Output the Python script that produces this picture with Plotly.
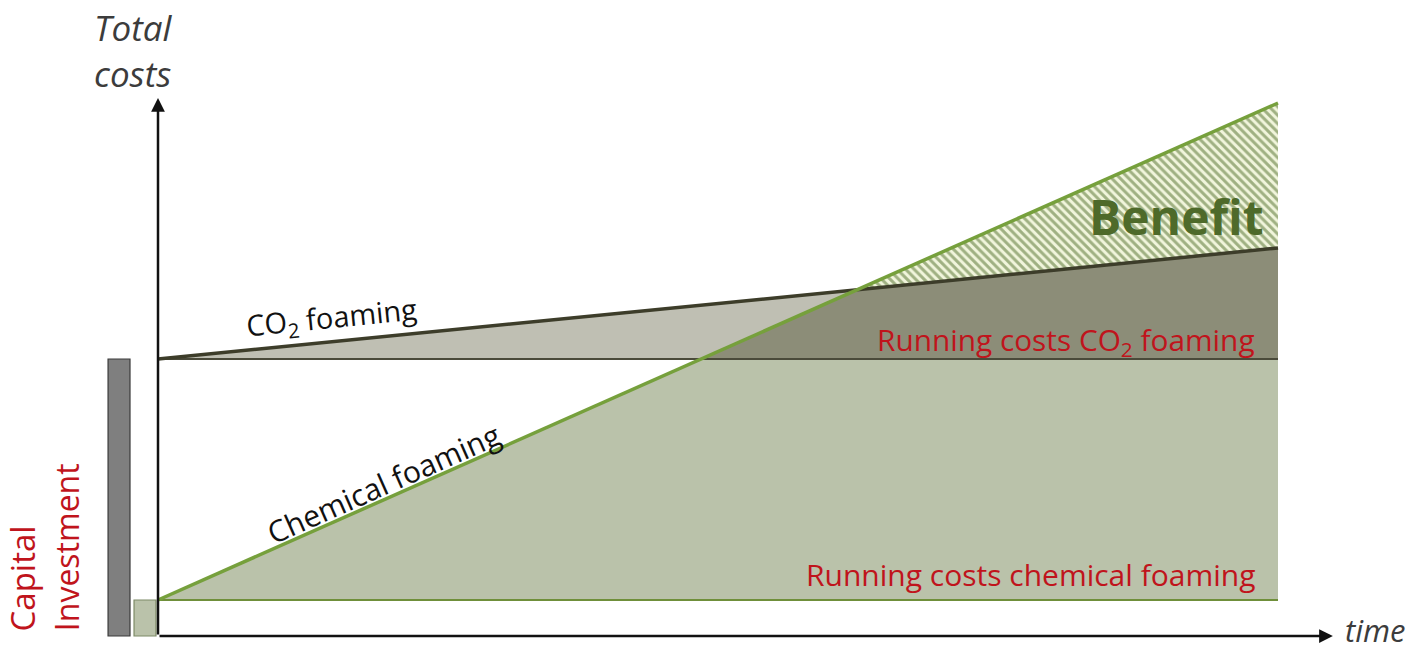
import plotly.graph_objects as go

# Conceptual cost comparison: chemical vs CO2 foaming over time
time_span = [0, 10]                  # start / end of the observed period
chem_costs = [3.6, 53.3]             # chemical foaming total costs at start / end
co2_costs = [27.7, 38.8]             # CO2 foaming total costs at start / end
capital = {"CO2": 27.7, "Chemical": 3.6}   # capital investment per process
capital_bar_t = [-0.348, -0.116]     # bar positions left of the cost axis
axis_tips = {"time": 10.49, "cost": 53.8}

# colours
C_CHEM_FILL = "#bac2aa"
C_CO2_FILL = "#bfbfb3"
C_OVERLAP = "#8c8d78"
C_CHEM_LINE = "#76a03c"
C_CO2_LINE = "#3d3d2a"
C_RED = "#c0141c"
C_TEXT = "#3c3c3c"
C_BENEFIT = "#4e6a2a"
FONT = "Open Sans"

t0, t1 = time_span
c_start, c_end = chem_costs
o_start, o_end = co2_costs


def chem_at(t):
    return c_start + (c_end - c_start) * (t - t0) / (t1 - t0)


def co2_at(t):
    return o_start + (o_end - o_start) * (t - t0) / (t1 - t0)


# where the chemical line meets the CO2 capital level and the CO2 line
t_a = t0 + (o_start - c_start) * (t1 - t0) / (c_end - c_start)
slope_diff = ((c_end - c_start) - (o_end - o_start)) / (t1 - t0)
t_c = t0 + (o_start - c_start) / slope_diff
y_c = chem_at(t_c)

fig = go.Figure()

# running costs of chemical foaming (area under its line)
fig.add_trace(go.Scatter(
    x=[t0, t1, t1, t0], y=[c_start, c_end, c_start, c_start],
    fill="toself", fillcolor=C_CHEM_FILL, mode="none", hoverinfo="skip"))

# running costs of CO2 foaming
fig.add_trace(go.Scatter(
    x=[t0, t1, t1, t0], y=[o_start, o_end, o_start, o_start],
    fill="toself", fillcolor=C_CO2_FILL, mode="none", hoverinfo="skip"))

# overlap of both running-cost areas
fig.add_trace(go.Scatter(
    x=[t_a, t_c, t1, t1, t_a], y=[o_start, y_c, o_end, o_start, o_start],
    fill="toself", fillcolor=C_OVERLAP, mode="none", hoverinfo="skip"))

# benefit wedge (hatched)
fig.add_trace(go.Scatter(
    x=[t_c, t1, t1, t_c], y=[y_c, c_end, o_end, y_c],
    fill="toself", mode="none", hoverinfo="skip",
    fillcolor="#f1f5dc",
    fillpattern=dict(shape="\\", fgcolor="#4e6c28", bgcolor="#f1f5dc",
                     size=6, solidity=0.5)))

# capital levels
fig.add_trace(go.Scatter(x=[t0, t1], y=[o_start, o_start], mode="lines",
                         line=dict(color="#4a4a3a", width=2), hoverinfo="skip"))
fig.add_trace(go.Scatter(x=[t0, t1], y=[c_start, c_start], mode="lines",
                         line=dict(color="#6f8f3a", width=2), hoverinfo="skip"))

# total cost lines
fig.add_trace(go.Scatter(x=[t0, t1], y=[o_start, o_end], mode="lines",
                         line=dict(color=C_CO2_LINE, width=3.5), hoverinfo="skip"))
fig.add_trace(go.Scatter(x=[t0, t1], y=[c_start, c_end], mode="lines",
                         line=dict(color=C_CHEM_LINE, width=3.5), hoverinfo="skip"))

# capital investment bars
fig.add_trace(go.Bar(
    x=capital_bar_t, y=[capital["CO2"], capital["Chemical"]], width=0.196,
    marker=dict(color=["#7f7f7f", C_CHEM_FILL],
                line=dict(color=["#3a3a3a", "#7d8a66"], width=1.2)),
    hoverinfo="skip"))

ann = []
# axes arrows
ann.append(dict(x=0, y=axis_tips["cost"], ax=0, ay=0, xref="x", yref="y",
                axref="x", ayref="y", showarrow=True, arrowhead=2, arrowsize=1.1,
                arrowwidth=2.5, arrowcolor="#111111", standoff=0, text=""))
ann.append(dict(x=axis_tips["time"], y=0, ax=0, ay=0, xref="x", yref="y",
                axref="x", ayref="y", showarrow=True, arrowhead=2, arrowsize=1.1,
                arrowwidth=2.5, arrowcolor="#111111", standoff=0, text=""))

ann.append(dict(x=-0.223, y=58.6, text="<i>Total<br>costs</i>", showarrow=False,
                font=dict(family=FONT, size=35, color=C_TEXT), align="center"))
ann.append(dict(x=11.16, y=0.0, xref="x", yref="paper", text="<i>time</i>",
                showarrow=False, xanchor="right", yanchor="bottom",
                font=dict(family=FONT, size=31, color=C_TEXT)))

ann.append(dict(x=-1.21, y=0.3, text="Capital", showarrow=False, textangle=-90,
                yanchor="bottom", font=dict(family=FONT, size=33, color=C_RED)))
ann.append(dict(x=-0.82, y=0.3, text="Investment", showarrow=False, textangle=-90,
                yanchor="bottom", font=dict(family=FONT, size=32, color=C_RED)))

ann.append(dict(x=1.545, y=31.8, text="CO<sub>2</sub> foaming", showarrow=False,
                textangle=-5.7, font=dict(family=FONT, size=29, color="#111111")))
ann.append(dict(x=2.01, y=15.3, text="Chemical foaming", showarrow=False,
                textangle=-23.9, font=dict(family=FONT, size=30, color="#111111")))

ann.append(dict(x=9.81, y=29.5, text="Running costs CO<sub>2</sub> foaming",
                showarrow=False, xanchor="right",
                font=dict(family=FONT, size=29.8, color=C_RED)))
ann.append(dict(x=9.81, y=6.2, text="Running costs chemical foaming",
                showarrow=False, xanchor="right",
                font=dict(family=FONT, size=30, color=C_RED)))

ann.append(dict(x=9.09, y=42.0, text="<b>Benefit</b>", showarrow=False,
                font=dict(family=FONT, size=48, color=C_BENEFIT)))

PX_PER_T = 112.0
ORIGIN_X = 158
W, H = 1420, 653
ORIGIN_Y = 636
PX_PER_C = 10.0

fig.update_layout(
    width=W, height=H, margin=dict(l=0, r=0, t=0, b=0),
    paper_bgcolor="white", plot_bgcolor="white", showlegend=False,
    annotations=ann,
    xaxis=dict(range=[-ORIGIN_X / PX_PER_T, (W - ORIGIN_X) / PX_PER_T],
               visible=False, fixedrange=True),
    yaxis=dict(range=[-(H - ORIGIN_Y) / PX_PER_C, ORIGIN_Y / PX_PER_C],
               visible=False, fixedrange=True),
)

fig.write_html("out.html")
